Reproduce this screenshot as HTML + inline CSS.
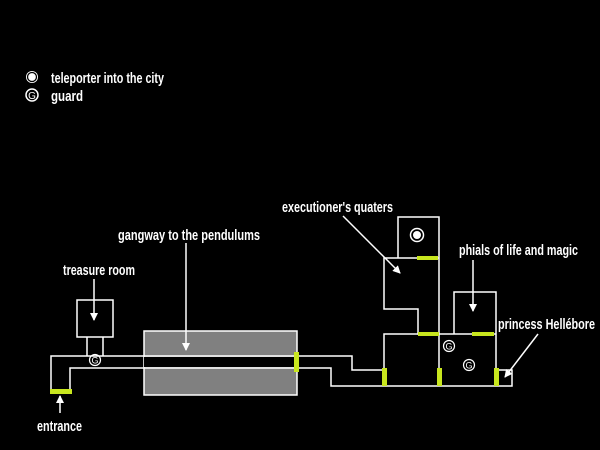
<!DOCTYPE html>
<html><head><style>html,body{margin:0;padding:0;background:#000;}svg{display:block}</style></head><body>
<svg width="600" height="450" viewBox="0 0 600 450" xmlns="http://www.w3.org/2000/svg">
<rect width="600" height="450" fill="#000"/>
<defs><marker id="a" markerWidth="8" markerHeight="12" refX="7" refY="4" orient="auto" markerUnits="userSpaceOnUse"><path d="M0,0 L8,4 L0,8 Z" fill="#fff"/></marker></defs>
<g font-family="Liberation Sans, sans-serif" font-weight="bold" font-size="15" fill="#fff">
<text x="51" y="83" textLength="113" lengthAdjust="spacingAndGlyphs">teleporter into the city</text>
<text x="51" y="101" textLength="32" lengthAdjust="spacingAndGlyphs">guard</text>
<text x="282" y="212" textLength="111" lengthAdjust="spacingAndGlyphs">executioner's quaters</text>
<text x="459" y="255" textLength="119" lengthAdjust="spacingAndGlyphs">phials of life and magic</text>
<text x="498" y="329" textLength="97" lengthAdjust="spacingAndGlyphs">princess Hellébore</text>
<text x="118" y="240" textLength="142" lengthAdjust="spacingAndGlyphs">gangway to the pendulums</text>
<text x="63" y="275" textLength="72" lengthAdjust="spacingAndGlyphs">treasure room</text>
<text x="37" y="431" textLength="45" lengthAdjust="spacingAndGlyphs">entrance</text>
</g>
<circle cx="32" cy="77" r="6" fill="#fff"/><circle cx="32" cy="77" r="4.5" fill="none" stroke="#000" stroke-width="1.3"/>
<circle cx="32" cy="95" r="6" fill="none" stroke="#fff" stroke-width="1.5"/>
<text x="32" y="99" font-family="Liberation Sans, sans-serif" font-size="10" fill="#fff" text-anchor="middle">G</text>
<rect x="144" y="331" width="153" height="64" fill="#808080" stroke="#fff" stroke-width="1.5"/>
<rect x="144" y="357" width="153" height="10" fill="#000"/>
<g fill="none" stroke="#fff" stroke-width="1.5">
<rect x="77" y="300" width="36" height="37"/>
<path d="M87,337 V356 M103,337 V356"/>
<path d="M70,392 V368 H331 V386 H512 V370 H496"/>
<path d="M51,392 V356 H352 V370 H384"/>
<path d="M398,258 V217 H439 V386"/>
<path d="M439,258 H384 V309 H418 V334 H439"/>
<path d="M384,386 V334 H439"/>
<path d="M454,334 V292 H496 V386"/>
<path d="M439,334 H496"/>
</g>
<g fill="#c8e61e">
<rect x="50" y="389" width="22" height="5"/>
<rect x="294" y="352" width="5" height="20"/>
<rect x="417" y="256" width="21" height="4"/>
<rect x="418" y="332" width="21" height="4"/>
<rect x="472" y="332" width="22" height="4"/>
<rect x="382" y="368" width="5" height="18"/>
<rect x="437" y="368" width="5" height="18"/>
<rect x="494" y="368" width="5" height="18"/>
</g>
<circle cx="417" cy="235" r="6.5" fill="none" stroke="#fff" stroke-width="1.5"/><circle cx="417" cy="235" r="4" fill="#fff"/>
<g font-family="Liberation Sans, sans-serif" font-size="9" fill="#fff" text-anchor="middle">
<circle cx="95" cy="360" r="5.5" fill="none" stroke="#fff" stroke-width="1.2"/><text x="95" y="363.5">G</text>
<circle cx="449" cy="346" r="5.5" fill="none" stroke="#fff" stroke-width="1.2"/><text x="449" y="349.5">G</text>
<circle cx="469" cy="365" r="5.5" fill="none" stroke="#fff" stroke-width="1.2"/><text x="469" y="368.5">G</text>
</g>
<g stroke="#fff" stroke-width="1.5" marker-end="url(#a)">
<line x1="186" y1="243" x2="186" y2="350"/>
<line x1="94" y1="279" x2="94" y2="320"/>
<line x1="60" y1="413" x2="60" y2="396"/>
<line x1="343" y1="216" x2="400" y2="273"/>
<line x1="473" y1="260" x2="473" y2="311"/>
<line x1="538" y1="334" x2="505" y2="377"/>
</g>
</svg>
</body></html>
